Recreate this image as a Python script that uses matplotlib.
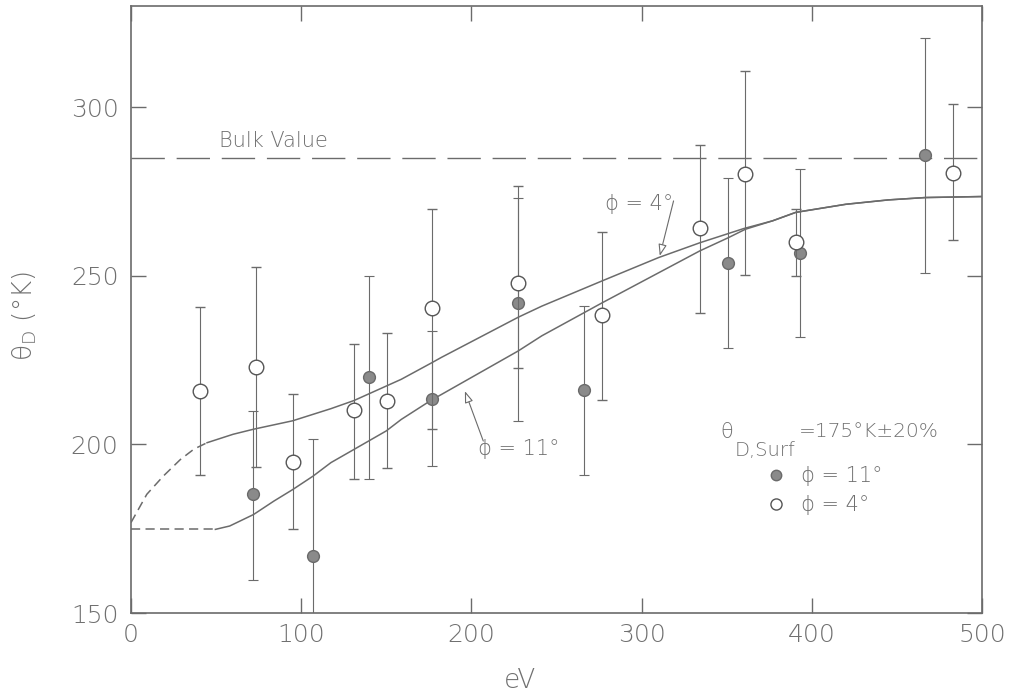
import numpy as np
import matplotlib
matplotlib.use("Agg")
import matplotlib.pyplot as plt

# measured points, phi = 11 deg (filled)
e_11 = [71.8, 106.8, 140.1, 176.7, 227.5, 266.0, 351.0, 393.0, 466.8]
t_11 = [185.4, 166.9, 220.0, 213.5, 242.0, 216.0, 253.9, 256.7, 285.9]
hi_11 = [209.9, 201.5, 249.9, 233.6, 273.0, 241.1, 278.9, 281.8, 320.4]
lo_11 = [159.9, 132.0, 189.6, 193.6, 207.0, 190.9, 228.7, 231.9, 250.7]

# measured points, phi = 4 deg (open)
e_4 = [40.3, 73.4, 95.2, 131.0, 150.3, 176.7, 227.5, 276.9, 334.3, 360.9, 390.6, 483.1]
t_4 = [215.8, 222.9, 194.9, 210.1, 212.9, 240.3, 247.8, 238.4, 264.2, 280.3, 260.0, 280.6]
hi_4 = [240.6, 252.6, 214.8, 229.7, 232.9, 269.9, 276.7, 263.0, 288.7, 310.8, 269.9, 300.9]
lo_4 = [190.9, 193.3, 174.8, 189.6, 192.9, 204.7, 222.8, 213.2, 239.1, 250.1, 249.9, 260.6]

# calculated curves
c4_dash_e = [0, 9.3, 19, 29, 37, 44.7]
c4_dash_t = [176.8, 185.2, 190.6, 195.5, 198.6, 200.5]
c4_e = [44.7, 60, 72, 95, 117.5, 131, 158.8, 176.7, 182.4, 227.5, 241.4, 276.9, 310, 334.3,
        360, 377, 390.6, 420, 445, 466.8, 500]
c4_t = [200.5, 203.0, 204.5, 207.0, 210.6, 213.0, 219.3, 224.2, 225.8, 237.7, 241.0, 248.5,
        255.4, 259.8, 264.0, 266.3, 268.8, 271.2, 272.5, 273.2, 273.5]

c11_dash_e = [0, 49.6]
c11_dash_t = [174.8, 174.8]
c11_e = [49.6, 58, 72, 84, 95, 107, 117.5, 131, 150, 158.8, 176.7, 182.4, 227.5, 241.4,
         276.9, 334.3, 351, 361, 377, 390.6, 420, 445, 466.8, 500]
c11_t = [174.8, 175.8, 179.2, 183.2, 186.6, 190.6, 194.6, 198.5, 204.0, 207.4, 213.2, 214.8,
         227.7, 232.2, 242.0, 257.4, 261.3, 263.8, 266.3, 268.8, 271.2, 272.5, 273.2, 273.5]

bulk = 285
x_ticks = [0, 100, 200, 300, 400, 500]
y_ticks = [150, 200, 250, 300]

ink = "#6b6b6b"
txt = "#707070"
plt.rcParams["font.family"] = ["DejaVu Sans"]

fig = plt.figure(figsize=(10.09, 6.97), dpi=100)
ax = fig.add_axes([0.1298, 0.1205, 0.8434, 0.8709])

ax.plot([0, 500], [bulk, bulk], color=ink, lw=1.0, dashes=(24, 8.5))
ax.plot(c4_dash_e, c4_dash_t, color=ink, lw=1.1, dashes=(6, 3.5))
ax.plot(c4_e, c4_t, color=ink, lw=1.1)
ax.plot(c11_dash_e, c11_dash_t, color=ink, lw=1.1, dashes=(6, 3.5))
ax.plot(c11_e, c11_t, color=ink, lw=1.1)

err11 = [np.array(t_11) - np.array(lo_11), np.array(hi_11) - np.array(t_11)]
err4 = [np.array(t_4) - np.array(lo_4), np.array(hi_4) - np.array(t_4)]
ax.errorbar(e_11, t_11, yerr=err11, fmt="o", ms=8.5, mfc="#8a8a8a", mec="#6a6a6a",
            ecolor=ink, elinewidth=0.8, capsize=3.6, capthick=0.8, zorder=3)
ax.errorbar(e_4, t_4, yerr=err4, fmt="o", ms=10.5, mfc="white", mec="#555555", mew=1.0,
            ecolor=ink, elinewidth=0.8, capsize=3.6, capthick=0.8, zorder=4)

ax.set_xlim(0, 500)
ax.set_ylim(150, 330)
ax.set_xticks(x_ticks)
ax.set_yticks(y_ticks)
ax.tick_params(direction="in", length=11, width=1.0, color=ink, labelcolor=txt,
               labelsize=18, top=True, right=True, pad=9)
ax.tick_params(axis="x", pad=7)
for lab in ax.get_xticklabels() + ax.get_yticklabels():
    lab.set_fontweight("light")
for s in ax.spines.values():
    s.set_color(ink)
    s.set_linewidth(1.2)

ax.set_xlabel("eV", fontsize=19, color=txt, fontweight="light", va="center")
ax.xaxis.set_label_coords(0.457, -0.112)
ax.set_ylabel("θ$_\\mathregular{D}$ (°K)", fontsize=19, color=txt, fontweight="light")
ax.yaxis.set_label_coords(-0.108, 0.49)

ax.text(84, 290, "Bulk Value", fontsize=15, color=txt, ha="center", va="center",
        fontweight="light")

ax.text(298.5, 271.2, "ϕ = 4°", fontsize=15, color=txt, ha="center", va="center",
        fontweight="light")
ax.annotate("", xy=(310.7, 255.9), xytext=(318.8, 272.2),
            arrowprops=dict(arrowstyle="-|>,head_length=0.7,head_width=0.25",
                            color=ink, fc="white", lw=0.8, shrinkA=0, shrinkB=0))
ax.text(228, 198.5, "ϕ = 11°", fontsize=15, color=txt, ha="center", va="center",
        fontweight="light")
ax.annotate("", xy=(196.2, 215.8), xytext=(207, 201),
            arrowprops=dict(arrowstyle="-|>,head_length=0.7,head_width=0.25",
                            color=ink, fc="white", lw=0.8, shrinkA=0, shrinkB=0))

ax.text(350, 203.6, "θ", fontsize=15, color=txt, ha="center", va="center",
        fontweight="light")
ax.text(354.5, 198.3, "D,Surf", fontsize=14, color=txt, ha="left", va="center",
        fontweight="light")
ax.text(392.5, 203.8, "=175°K±20%", fontsize=14.5, color=txt, ha="left", va="center",
        fontweight="light")
ax.plot([379], [190.8], "o", ms=7.5, mfc="#8a8a8a", mec="#6a6a6a")
ax.text(393.5, 190.6, "ϕ = 11°", fontsize=15, color=txt, ha="left", va="center",
        fontweight="light")
ax.plot([379], [182.2], "o", ms=8, mfc="white", mec="#555555", mew=1.0)
ax.text(393.5, 182.0, "ϕ = 4°", fontsize=15, color=txt, ha="left", va="center",
        fontweight="light")

fig.savefig("out.png", dpi=100)
